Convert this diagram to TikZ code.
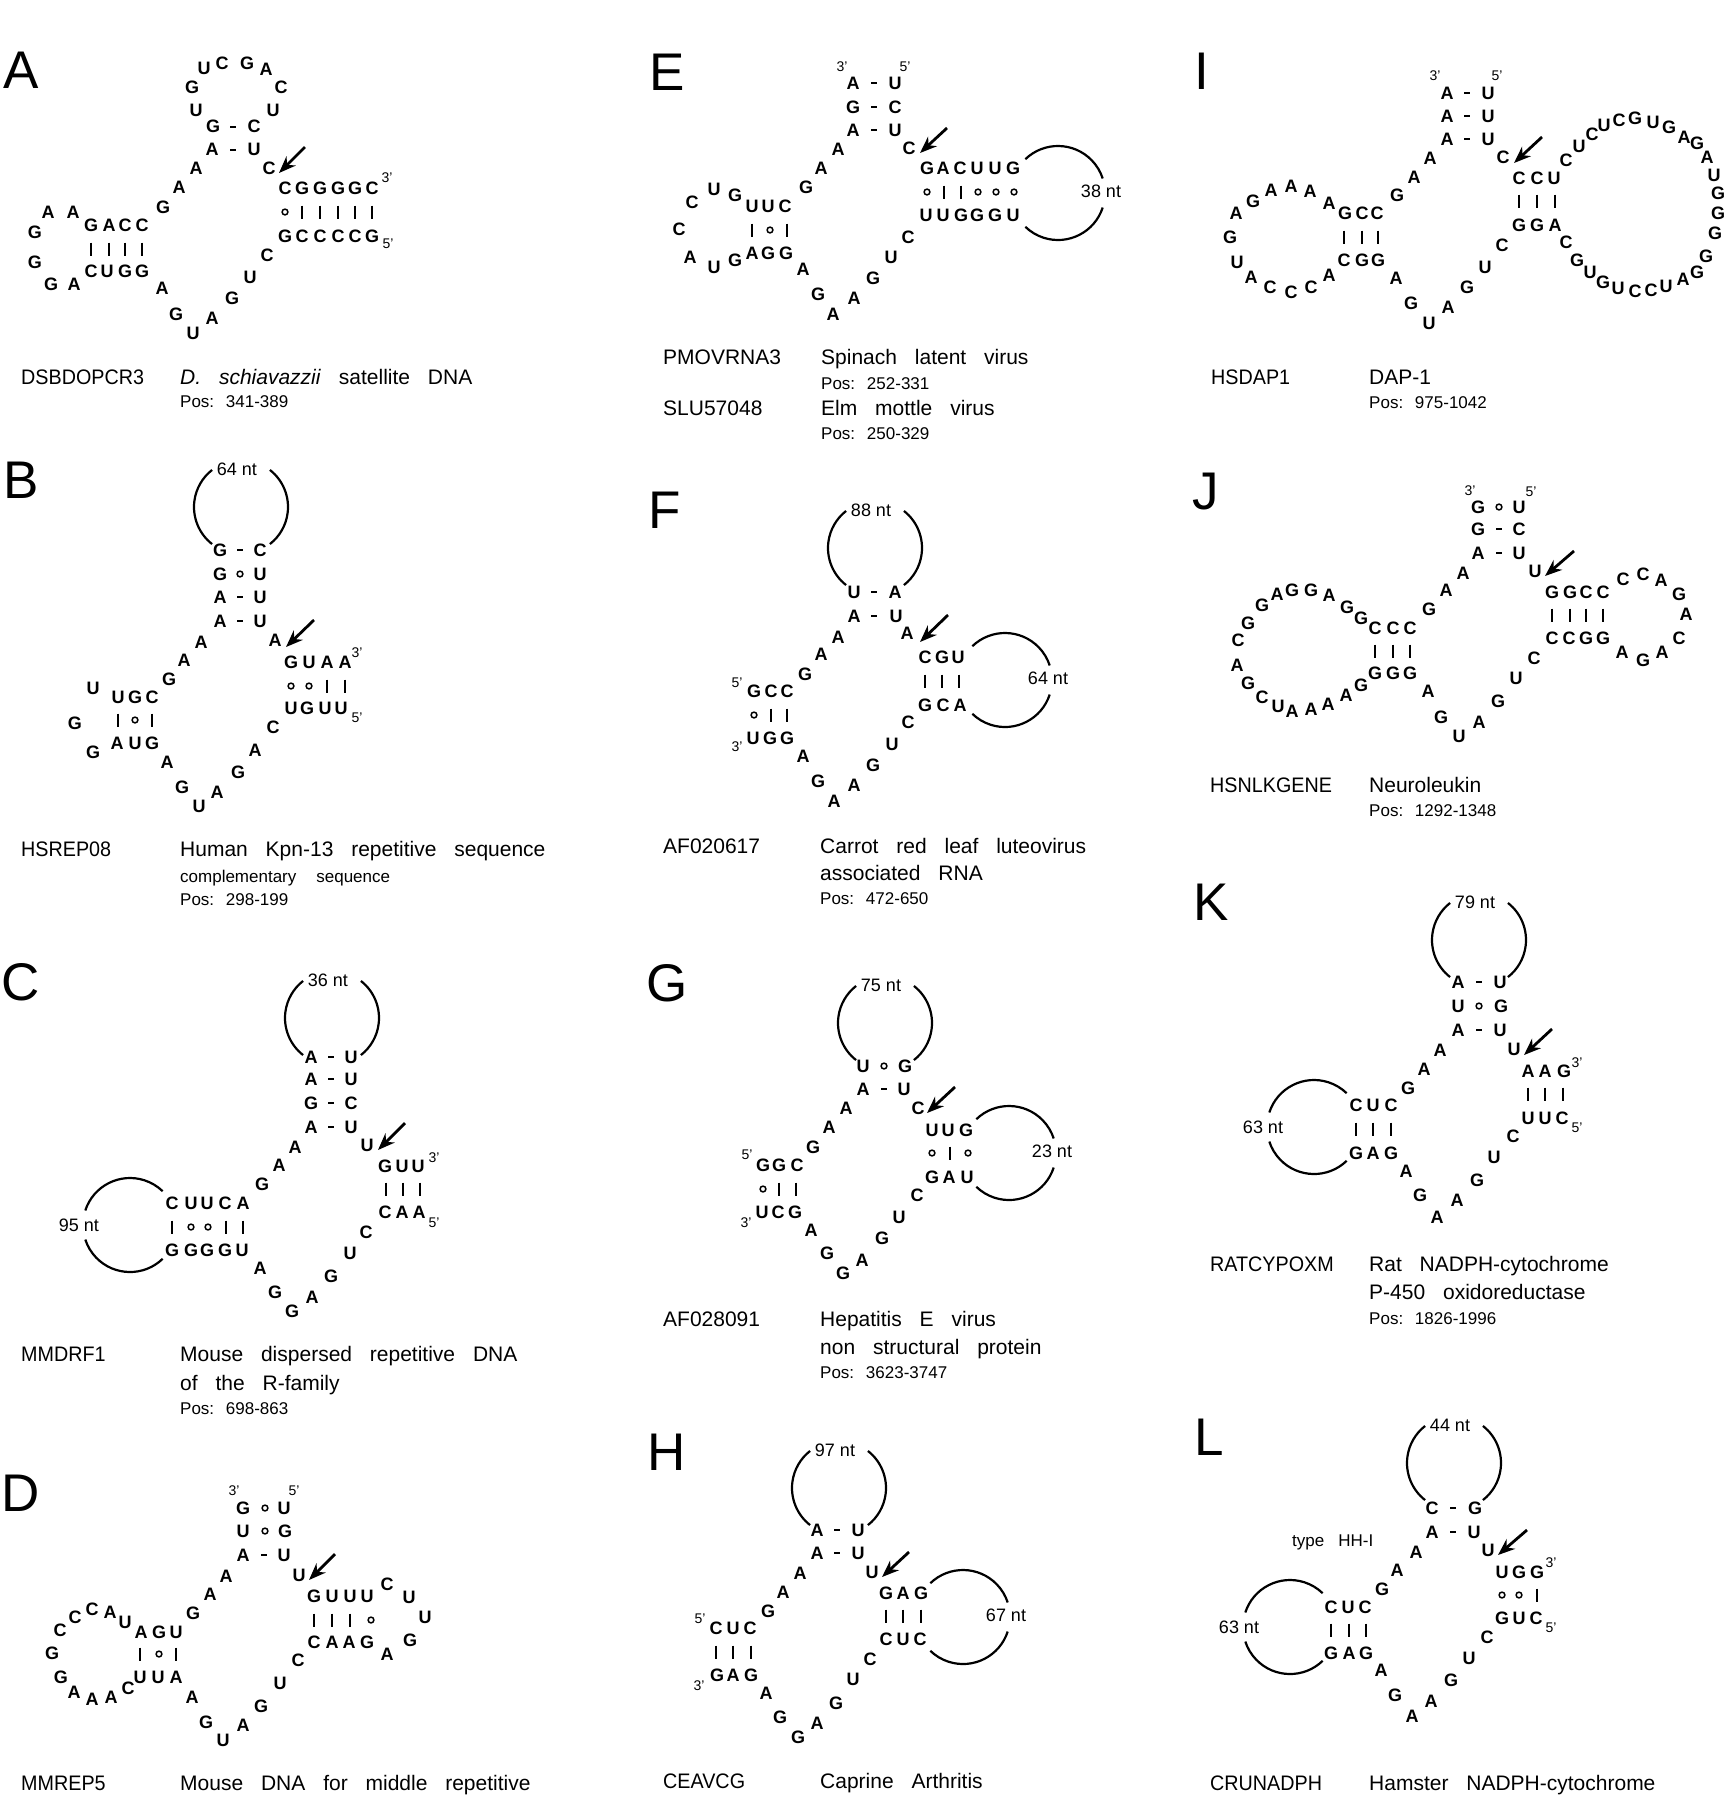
\documentclass[tikz,border=0pt]{standalone}
\usepackage{fontspec}
\setmainfont{Liberation Sans}
\newfontfamily\condfont[FakeStretch=0.94]{Liberation Sans}
\usepackage{tikz}
\usetikzlibrary{arrows.meta}

\newcommand{\ntfont}{\fontsize{18}{18}\selectfont\bfseries}
\newcommand{\idfont}{\fontsize{21}{25}\selectfont}
\newcommand{\capfont}{\fontsize{21}{25}\selectfont\spaceskip=0.85em\relax}
\newcommand{\posfont}{\fontsize{17}{20}\selectfont\spaceskip=0.6em\relax}

\tikzset{
  nt/.style={font=\ntfont, inner sep=0pt, text height=12.5pt, text depth=0pt},
  endlab/.style={font=\fontsize{14}{14}\selectfont, inner sep=0pt},
  looplab/.style={font=\fontsize{18}{18}\selectfont, inner sep=0pt},
  panellab/.style={font=\fontsize{53}{53}\selectfont, inner sep=0pt},
  idtext/.style={font=\condfont\idfont, anchor=base west, inner sep=0pt},
  idwide/.style={font=\idfont, anchor=base west, inner sep=0pt},
  captext/.style={font=\capfont, anchor=base west, inner sep=0pt},
  postext/.style={font=\posfont, anchor=base west, inner sep=0pt},
  pairline/.style={line width=1.5pt},
  loopline/.style={line width=2.2pt},
  cleave/.style={line width=2.8pt, -{Stealth[length=17pt,width=13pt]}},
  wcbar/.pic={\draw[pairline] (0,-6.5) -- (0,6.5);},
  wcdash/.pic={\draw[line width=2.2pt] (-2.7,0) -- (2.7,0);},
  gupair/.pic={\draw[pairline] (0,0) circle[radius=2.9];},
}

% hairpin loops drawn as open arcs with their length in the gap
\newcommand{\toploop}[4]{%
  \draw[loopline] (#2,#3) ++(128:47) arc[start angle=128, end angle=232, radius=47];
  \draw[loopline] (#2,#3) ++(-52:47) arc[start angle=-52, end angle=52, radius=47];
  \node[looplab] (#1) at (#2-4,#3-38) {#4}}
\newcommand{\rightloop}[4]{%
  \draw[loopline] (#2,#3) ++(226:47) arc[start angle=226, end angle=342, radius=47];
  \draw[loopline] (#2,#3) ++(18:47) arc[start angle=18, end angle=134, radius=47];
  \node[looplab] (#1) at (#2+43,#3-2) {#4}}
\newcommand{\leftloop}[4]{%
  \draw[loopline] (#2,#3) ++(198:47) arc[start angle=198, end angle=314, radius=47];
  \draw[loopline] (#2,#3) ++(46:47) arc[start angle=46, end angle=162, radius=47];
  \node[looplab] (#1) at (#2-51,#3) {#4}}

\begin{document}
\begin{tikzpicture}[x=1pt, y=-1pt]
  \path[fill=white] (0,0) rectangle (1729,1800);
  \useasboundingbox (0,0) rectangle (1729,1800);

  % A
  \node[panellab] (labA) at (21,70) {A};
  \foreach \x/\y/\base [count=\i] in {204/68/U, 222/63/C, 247/63/G, 266/69/A, 192/87/G, 281/87/C,
      196/110/U, 273/110/U, 213/126/G, 254/126/C, 212/149/A, 254/149/U, 196/168/A, 269/168/C,
      179/187/A, 163/207/G, 285/188/C, 302/188/G, 320/188/G, 338/188/G, 355/188/G, 372/188/C,
      285/236/G, 302/236/C, 320/236/C, 338/236/C, 355/236/C, 372/236/G, 267/255/C, 250/277/U,
      232/298/G, 212/318/A, 193/333/U, 176/314/G, 162/288/A, 91/225/G, 109/225/A, 125/225/C,
      142/225/C, 91/271/C, 107/271/U, 125/271/G, 142/271/G, 48/212/A, 73/212/A, 35/232/G,
      35/262/G, 51/284/G, 74/284/A}
    \node[nt] (A\i) at (\x,\y) {\base};
  \foreach \x/\y in {233/127, 233/150} \pic at (\x,\y) {wcdash};
  \foreach \x/\y in {285/212} \pic at (\x,\y) {gupair};
  \foreach \x/\y in {302/212, 320/212, 338/212, 355/212, 372/212, 91/249, 109/249, 125/249, 142/249}
    \pic at (\x,\y) {wcbar};
  \node[endlab] (Aend3) at (387,178) {3'};
  \node[endlab] (Aend5) at (388,244) {5'};
  \coordinate (Acut0) at (305,147);
  \coordinate (Acut) at (279,173);
  \draw[cleave] (Acut0) -- (Acut);
  \node[idtext] (idA) at (21,384) {DSBDOPCR3};
  \node[captext] (descA) at (180,384) {\textit{D. schiavazzii} satellite DNA};
  \node[postext] (posA) at (180,407) {Pos: 341-389};

  % B
  \node[panellab] (labB) at (21,480) {B};
  \foreach \x/\y/\base [count=\i] in {220/550/G, 260/550/C, 220/574/G, 260/574/U, 220/597/A,
      260/597/U, 220/621/A, 260/621/U, 201/642/A, 275/640/A, 184/660/A, 169/679/G, 291/662/G,
      309/662/U, 327/662/A, 345/662/A, 291/708/U, 307/708/G, 325/708/U, 341/708/U, 273/727/C,
      255/750/A, 238/772/G, 217/792/A, 199/806/U, 182/787/G, 167/762/A, 118/697/U, 135/697/G,
      152/697/C, 117/743/A, 135/743/U, 152/743/G, 93/688/U, 75/723/G, 93/752/G}
    \node[nt] (B\i) at (\x,\y) {\base};
  \foreach \x/\y in {240/550, 240/597, 240/621} \pic at (\x,\y) {wcdash};
  \foreach \x/\y in {240/574, 291/686, 309/686, 135/720} \pic at (\x,\y) {gupair};
  \foreach \x/\y in {327/686, 345/686, 118/720, 152/720} \pic at (\x,\y) {wcbar};
  \node[endlab] (Bend3) at (357,653) {3'};
  \node[endlab] (Bend5) at (357,718) {5'};
  \toploop{loopB}{241}{507}{64 nt};
  \coordinate (Bcut0) at (314,620);
  \coordinate (Bcut) at (286,647);
  \draw[cleave] (Bcut0) -- (Bcut);
  \node[idtext] (idB) at (21,856) {HSREP08};
  \node[captext] (descB) at (180,856) {Human Kpn-13 repetitive sequence};
  \node[postext] (descBb) at (180,882) {complementary\hspace{20pt}sequence};
  \node[postext] (posB) at (180,905) {Pos: 298-199};

  % C
  \node[panellab] (labC) at (21,982) {C};
  \foreach \x/\y/\base [count=\i] in {311/1057/A, 351/1057/U, 311/1079/A, 351/1079/U, 311/1103/G,
      351/1103/C, 311/1127/A, 351/1127/U, 295/1147/A, 367/1145/U, 279/1165/A, 262/1184/G,
      385/1166/G, 402/1166/U, 418/1166/U, 385/1212/C, 402/1212/A, 419/1212/A, 366/1232/C,
      350/1253/U, 331/1276/G, 312/1297/A, 292/1311/G, 275/1292/G, 260/1268/A, 172/1203/C,
      191/1203/U, 207/1203/U, 225/1203/C, 243/1203/A, 172/1250/G, 191/1250/G, 207/1250/G,
      225/1250/G, 242/1250/U}
    \node[nt] (C\i) at (\x,\y) {\base};
  \foreach \x/\y in {331/1057, 331/1079, 331/1103, 331/1127} \pic at (\x,\y) {wcdash};
  \foreach \x/\y in {191/1227, 208/1227} \pic at (\x,\y) {gupair};
  \foreach \x/\y in {386/1189, 403/1189, 420/1189, 172/1227, 226/1227, 243/1227}
    \pic at (\x,\y) {wcbar};
  \node[endlab] (Cend3) at (434,1158) {3'};
  \node[endlab] (Cend5) at (434,1223) {5'};
  \toploop{loopC}{332}{1018}{36 nt};
  \leftloop{loopCb}{130}{1225}{95 nt};
  \coordinate (Ccut0) at (405,1123);
  \coordinate (Ccut) at (378,1150);
  \draw[cleave] (Ccut0) -- (Ccut);
  \node[idtext] (idC) at (21,1361) {MMDRF1};
  \node[captext] (descC) at (180,1361) {Mouse dispersed repetitive DNA};
  \node[captext] (descCb) at (180,1390) {of the R-family};
  \node[postext] (posC) at (180,1414) {Pos: 698-863};

  % D
  \node[panellab] (labD) at (21,1493) {D};
  \foreach \x/\y/\base [count=\i] in {243/1508/G, 284/1508/U, 243/1531/U, 285/1531/G, 243/1555/A,
      284/1555/U, 226/1576/A, 299/1575/U, 210/1594/A, 193/1613/G, 314/1596/G, 332/1596/U,
      350/1596/U, 367/1596/U, 387/1584/C, 409/1597/U, 425/1617/U, 410/1640/G, 387/1654/A,
      314/1642/C, 332/1642/A, 349/1642/A, 367/1642/G, 298/1660/C, 280/1683/U, 261/1706/G,
      243/1725/A, 223/1740/U, 206/1722/G, 192/1697/A, 141/1632/A, 159/1632/G, 176/1632/U,
      125/1622/U, 140/1677/U, 158/1677/U, 176/1677/A, 128/1688/C, 110/1612/A, 92/1609/C,
      75/1617/C, 60/1630/C, 52/1653/G, 61/1677/G, 74/1692/A, 92/1699/A, 111/1697/A}
    \node[nt] (D\i) at (\x,\y) {\base};
  \foreach \x/\y in {264/1555} \pic at (\x,\y) {wcdash};
  \foreach \x/\y in {265/1508, 265/1531, 371/1620, 159/1654} \pic at (\x,\y) {gupair};
  \foreach \x/\y in {314/1620, 332/1620, 350/1620, 140/1654, 176/1654} \pic at (\x,\y) {wcbar};
  \node[endlab] (Dend3) at (234,1491) {3'};
  \node[endlab] (Dend5) at (294,1491) {5'};
  \coordinate (Dcut0) at (335,1554);
  \coordinate (Dcut) at (309,1580);
  \draw[cleave] (Dcut0) -- (Dcut);
  \node[idtext] (idD) at (21,1790) {MMREP5};
  \node[captext] (descD) at (180,1790) {Mouse DNA for middle repetitive};

  % E
  \node[panellab] (labE) at (667,72) {E};
  \foreach \x/\y/\base [count=\i] in {853/83/A, 895/83/U, 853/107/G, 895/107/C, 853/130/A,
      895/130/U, 838/149/A, 909/148/C, 821/168/A, 806/187/G, 927/168/G, 943/168/A, 960/168/C,
      977/168/U, 995/168/U, 1013/168/G, 926/215/U, 943/215/U, 961/215/G, 977/215/G, 995/215/G,
      1013/215/U, 908/237/C, 891/257/U, 873/278/G, 854/298/A, 833/314/A, 818/294/G, 803/269/A,
      752/206/U, 768/206/U, 785/206/C, 735/195/G, 752/253/A, 768/253/G, 786/253/G, 735/260/G,
      714/189/U, 692/202/C, 679/229/C, 690/257/A, 714/267/U}
    \node[nt] (E\i) at (\x,\y) {\base};
  \foreach \x/\y in {874/83, 874/107, 874/130} \pic at (\x,\y) {wcdash};
  \foreach \x/\y in {927/192, 978/192, 996/192, 1014/192, 770/230} \pic at (\x,\y) {gupair};
  \foreach \x/\y in {944/192, 961/192, 752/230, 787/230} \pic at (\x,\y) {wcbar};
  \node[endlab] (Eend3) at (842,67) {3'};
  \node[endlab] (Eend5) at (905,67) {5'};
  \rightloop{loopE}{1058}{193}{38 nt};
  \coordinate (Ecut0) at (947,128);
  \coordinate (Ecut) at (920,153);
  \draw[cleave] (Ecut0) -- (Ecut);
  \node[idwide] (idE) at (663,364) {PMOVRNA3};
  \node[captext] (descE) at (821,364) {Spinach latent virus};
  \node[postext] (posE) at (821,389) {Pos: 252-331};
  \node[idwide] (idEb) at (663,415) {SLU57048};
  \node[captext] (descEb) at (821,415) {Elm mottle virus};
  \node[postext] (posEb) at (821,439) {Pos: 250-329};

  % F
  \node[panellab] (labF) at (665,510) {F};
  \foreach \x/\y/\base [count=\i] in {854/592/U, 895/592/A, 854/616/A, 896/616/U, 838/637/A,
      907/633/A, 821/654/A, 805/674/G, 925/657/C, 942/657/G, 958/657/U, 925/705/G, 943/705/C,
      960/705/A, 908/722/C, 892/744/U, 873/765/G, 854/785/A, 834/801/A, 818/781/G, 803/756/A,
      754/691/G, 771/691/C, 787/691/C, 753/738/U, 770/738/G, 787/738/G}
    \node[nt] (F\i) at (\x,\y) {\base};
  \foreach \x/\y in {874/592, 874/616} \pic at (\x,\y) {wcdash};
  \foreach \x/\y in {754/715} \pic at (\x,\y) {gupair};
  \foreach \x/\y in {925/681, 942/681, 959/681, 771/715, 787/715} \pic at (\x,\y) {wcbar};
  \node[endlab] (Fend5) at (737,683) {5'};
  \node[endlab] (Fend3) at (737,747) {3'};
  \toploop{loopF}{875}{548}{88 nt};
  \rightloop{loopFb}{1005}{680}{64 nt};
  \coordinate (Fcut0) at (948,615);
  \coordinate (Fcut) at (920,642);
  \draw[cleave] (Fcut0) -- (Fcut);
  \node[idwide] (idF) at (663,853) {AF020617};
  \node[captext] (descF) at (820,853) {Carrot red leaf luteovirus};
  \node[captext] (descFb) at (820,880) {associated RNA};
  \node[postext] (posF) at (820,904) {Pos: 472-650};

  % G
  \node[panellab] (labG) at (667,983) {G};
  \foreach \x/\y/\base [count=\i] in {863/1066/U, 905/1066/G, 863/1089/A, 904/1089/U, 846/1108/A,
      918/1108/C, 829/1127/A, 813/1147/G, 932/1130/U, 948/1130/U, 966/1130/G, 932/1177/G,
      949/1177/A, 967/1177/U, 917/1195/C, 899/1217/U, 882/1238/G, 862/1260/A, 843/1273/G,
      827/1253/G, 811/1230/A, 763/1165/G, 779/1165/G, 797/1165/C, 762/1212/U, 778/1212/C,
      795/1212/G}
    \node[nt] (G\i) at (\x,\y) {\base};
  \foreach \x/\y in {884/1089} \pic at (\x,\y) {wcdash};
  \foreach \x/\y in {884/1066, 932/1153, 968/1153, 763/1189} \pic at (\x,\y) {gupair};
  \foreach \x/\y in {950/1153, 779/1189, 796/1189} \pic at (\x,\y) {wcbar};
  \node[endlab] (Gend5) at (747,1155) {5'};
  \node[endlab] (Gend3) at (746,1223) {3'};
  \toploop{loopG}{885}{1023}{75 nt};
  \rightloop{loopGb}{1009}{1153}{23 nt};
  \coordinate (Gcut0) at (955,1087);
  \coordinate (Gcut) at (927,1113);
  \draw[cleave] (Gcut0) -- (Gcut);
  \node[idwide] (idG) at (663,1326) {AF028091};
  \node[captext] (descG) at (820,1326) {Hepatitis E virus};
  \node[captext] (descGb) at (820,1354) {non structural protein};
  \node[postext] (posG) at (820,1378) {Pos: 3623-3747};

  % H
  \node[panellab] (labH) at (667,1452) {H};
  \foreach \x/\y/\base [count=\i] in {817/1530/A, 858/1530/U, 817/1553/A, 858/1553/U, 800/1573/A,
      872/1572/U, 783/1592/A, 768/1611/G, 886/1593/G, 903/1593/A, 921/1593/G, 886/1639/C,
      903/1639/U, 920/1639/C, 870/1659/C, 853/1679/U, 836/1703/G, 817/1723/A, 798/1737/G,
      780/1717/G, 766/1693/A, 716/1628/C, 733/1628/U, 750/1628/C, 717/1675/G, 733/1675/A,
      751/1675/G}
    \node[nt] (H\i) at (\x,\y) {\base};
  \foreach \x/\y in {837/1530, 837/1553} \pic at (\x,\y) {wcdash};
  \foreach \x/\y in {886/1616, 903/1616, 921/1616, 716/1652, 733/1652, 751/1652}
    \pic at (\x,\y) {wcbar};
  \node[endlab] (Hend5) at (700,1619) {5'};
  \node[endlab] (Hend3) at (699,1686) {3'};
  \toploop{loopH}{839}{1488}{97 nt};
  \rightloop{loopHb}{963}{1617}{67 nt};
  \coordinate (Hcut0) at (909,1552);
  \coordinate (Hcut) at (882,1577);
  \draw[cleave] (Hcut0) -- (Hcut);
  \node[idtext] (idH) at (663,1788) {CEAVCG};
  \node[captext] (descH) at (820,1788) {Caprine Arthritis};

  % I
  \node[panellab] (labI) at (1202,71) {I};
  \foreach \x/\y/\base [count=\i] in {1447/93/A, 1488/93/U, 1447/116/A, 1488/116/U, 1447/139/A,
      1488/139/U, 1430/158/A, 1503/157/C, 1414/177/A, 1397/195/G, 1519/178/C, 1537/178/C,
      1554/178/U, 1519/225/G, 1537/225/G, 1555/225/A, 1566/160/C, 1579/146/U, 1592/134/C,
      1604/125/U, 1619/120/C, 1635/118/G, 1653/122/U, 1669/127/G, 1684/137/A, 1697/143/G,
      1707/157/A, 1714/175/U, 1718/193/G, 1718/213/G, 1715/233/G, 1706/256/G, 1697/272/G,
      1683/279/A, 1666/286/U, 1651/290/C, 1635/291/C, 1618/288/U, 1603/282/G, 1590/272/U,
      1577/260/G, 1566/242/C, 1502/245/C, 1485/267/U, 1467/287/G, 1448/307/A, 1429/323/U,
      1411/303/G, 1396/278/A, 1345/213/G, 1362/213/C, 1377/213/C, 1344/260/C, 1362/260/G,
      1378/260/G, 1329/203/A, 1310/191/A, 1291/186/A, 1271/190/A, 1253/201/G, 1236/213/A,
      1230/237/G, 1237/262/U, 1251/277/A, 1270/287/C, 1291/292/C, 1311/287/C, 1329/275/A}
    \node[nt] (I\i) at (\x,\y) {\base};
  \foreach \x/\y in {1467/93, 1467/116, 1467/139} \pic at (\x,\y) {wcdash};
  \foreach \x/\y in {1519/201, 1537/201, 1555/201, 1344/237, 1362/237, 1378/237}
    \pic at (\x,\y) {wcbar};
  \node[endlab] (Iend3) at (1435,76) {3'};
  \node[endlab] (Iend5) at (1497,76) {5'};
  \coordinate (Icut0) at (1542,137);
  \coordinate (Icut) at (1514,163);
  \draw[cleave] (Icut0) -- (Icut);
  \node[idtext] (idI) at (1211,384) {HSDAP1};
  \node[captext] (descI) at (1369,384) {DAP-1};
  \node[postext] (posI) at (1369,408) {Pos: 975-1042};

  % J
  \node[panellab] (labJ) at (1206,492) {J};
  \foreach \x/\y/\base [count=\i] in {1478/507/G, 1519/507/U, 1478/529/G, 1519/529/C, 1478/553/A,
      1519/553/U, 1463/573/A, 1535/571/U, 1446/590/A, 1429/609/G, 1552/592/G, 1570/592/G,
      1586/592/C, 1603/592/C, 1552/638/C, 1569/638/C, 1586/638/G, 1603/638/G, 1623/579/C,
      1643/574/C, 1661/580/A, 1679/594/G, 1686/614/A, 1679/638/C, 1662/652/A, 1643/660/G,
      1622/652/A, 1534/658/C, 1516/678/U, 1498/701/G, 1479/722/A, 1459/736/U, 1441/717/G,
      1428/691/A, 1375/628/C, 1393/628/C, 1410/628/C, 1375/673/G, 1393/673/G, 1410/673/G,
      1361/618/G, 1347/607/G, 1329/595/A, 1311/590/G, 1292/590/G, 1277/594/A, 1262/605/G,
      1248/623/G, 1238/640/C, 1237/665/A, 1248/683/G, 1262/697/C, 1278/706/U, 1292/711/A,
      1311/709/A, 1328/704/A, 1346/695/A, 1361/685/G}
    \node[nt] (J\i) at (\x,\y) {\base};
  \foreach \x/\y in {1499/529, 1499/553} \pic at (\x,\y) {wcdash};
  \foreach \x/\y in {1499/507} \pic at (\x,\y) {gupair};
  \foreach \x/\y in {1552/615, 1570/615, 1586/615, 1603/615, 1375/651, 1393/651, 1410/651}
    \pic at (\x,\y) {wcbar};
  \node[endlab] (Jend3) at (1470,491) {3'};
  \node[endlab] (Jend5) at (1531,492) {5'};
  \coordinate (Jcut0) at (1574,551);
  \coordinate (Jcut) at (1545,576);
  \draw[cleave] (Jcut0) -- (Jcut);
  \node[idtext] (idJ) at (1210,792) {HSNLKGENE};
  \node[captext] (descJ) at (1369,792) {Neuroleukin};
  \node[postext] (posJ) at (1369,816) {Pos: 1292-1348};

  % K
  \node[panellab] (labK) at (1211,902) {K};
  \foreach \x/\y/\base [count=\i] in {1458/982/A, 1500/982/U, 1458/1006/U, 1501/1006/G,
      1458/1030/A, 1500/1030/U, 1440/1050/A, 1514/1049/U, 1424/1069/A, 1408/1088/G,
      1528/1071/A, 1545/1071/A, 1564/1071/G, 1528/1118/U, 1545/1118/U, 1562/1118/C,
      1513/1136/C, 1494/1157/U, 1477/1180/G, 1457/1200/A, 1437/1217/A, 1420/1195/G,
      1406/1171/A, 1356/1105/C, 1373/1105/U, 1391/1105/C, 1356/1153/G, 1373/1153/A,
      1391/1153/G}
    \node[nt] (K\i) at (\x,\y) {\base};
  \foreach \x/\y in {1479/982, 1479/1030} \pic at (\x,\y) {wcdash};
  \foreach \x/\y in {1479/1006} \pic at (\x,\y) {gupair};
  \foreach \x/\y in {1528/1094, 1545/1094, 1563/1094, 1356/1129, 1373/1129, 1391/1129}
    \pic at (\x,\y) {wcbar};
  \node[endlab] (Kend3) at (1577,1063) {3'};
  \node[endlab] (Kend5) at (1577,1128) {5'};
  \toploop{loopK}{1479}{940}{79 nt};
  \leftloop{loopKb}{1314}{1127}{63 nt};
  \coordinate (Kcut0) at (1552,1029);
  \coordinate (Kcut) at (1524,1055);
  \draw[cleave] (Kcut0) -- (Kcut);
  \node[idtext] (idK) at (1210,1271) {RATCYPOXM};
  \node[captext] (descK) at (1369,1271) {Rat NADPH-cytochrome};
  \node[captext] (descKb) at (1369,1299) {P-450 oxidoreductase};
  \node[postext] (posK) at (1369,1324) {Pos: 1826-1996};

  % L
  \node[panellab] (labL) at (1209,1437) {L};
  \foreach \x/\y/\base [count=\i] in {1432/1508/C, 1475/1508/G, 1432/1532/A, 1474/1532/U,
      1416/1552/A, 1488/1550/U, 1397/1570/A, 1382/1589/G, 1502/1572/U, 1519/1572/G,
      1537/1572/G, 1502/1618/G, 1519/1618/U, 1536/1618/C, 1487/1637/C, 1469/1658/U,
      1451/1680/G, 1431/1701/A, 1412/1716/A, 1395/1695/G, 1381/1670/A, 1331/1607/C,
      1348/1607/U, 1365/1607/C, 1331/1653/G, 1349/1653/A, 1366/1653/G}
    \node[nt] (L\i) at (\x,\y) {\base};
  \foreach \x/\y in {1453/1508, 1453/1532} \pic at (\x,\y) {wcdash};
  \foreach \x/\y in {1502/1595, 1519/1595} \pic at (\x,\y) {gupair};
  \foreach \x/\y in {1537/1595, 1331/1630, 1349/1630, 1366/1630} \pic at (\x,\y) {wcbar};
  \node[endlab] (Lend3) at (1551,1563) {3'};
  \node[endlab] (Lend5) at (1551,1628) {5'};
  \toploop{loopL}{1454}{1463}{44 nt};
  \leftloop{loopLb}{1290}{1627}{63 nt};
  \coordinate (Lcut0) at (1527,1530);
  \coordinate (Lcut) at (1498,1555);
  \draw[cleave] (Lcut0) -- (Lcut);
  \node[postext] (typeL) at (1292,1546) {type\hspace{14pt}HH-I};
  \node[idtext] (idL) at (1210,1790) {CRUNADPH};
  \node[captext] (descL) at (1369,1790) {Hamster NADPH-cytochrome};
\end{tikzpicture}
\end{document}
